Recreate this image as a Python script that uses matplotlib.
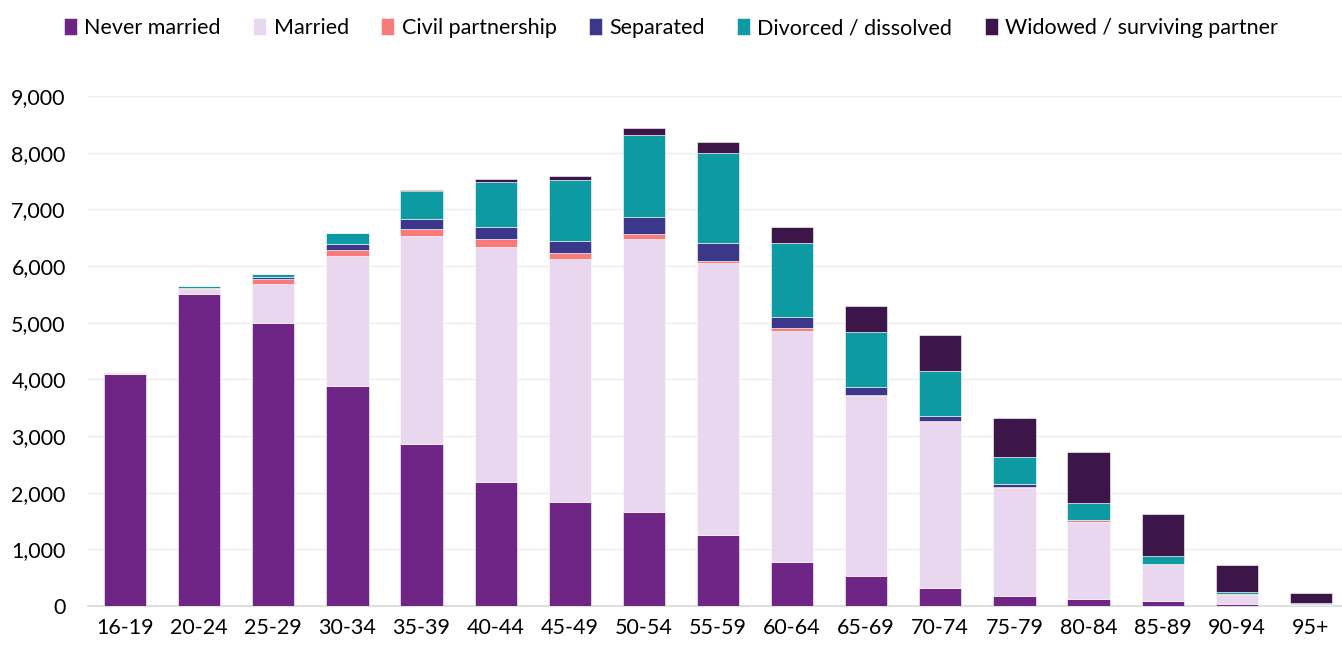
import numpy as np
import matplotlib.pyplot as plt

plt.rcParams['font.family'] = ['Lato', 'DejaVu Sans']

ages = ['16-19', '20-24', '25-29', '30-34', '35-39', '40-44', '45-49', '50-54',
        '55-59', '60-64', '65-69', '70-74', '75-79', '80-84', '85-89', '90-94', '95+']

never_married = [4100, 5500, 5000, 3880, 2860, 2196, 1843, 1661, 1259, 779, 523, 322, 175, 118, 82, 30, 10]
married = [20, 90, 690, 2305, 3667, 4148, 4288, 4823, 4787, 4081, 3181, 2932, 1910, 1367, 660, 170, 31]
civil = [3, 20, 85, 97, 134, 128, 104, 85, 49, 43, 25, 19, 12, 24, 5, 3, 1]
separated = [3, 10, 25, 104, 164, 225, 207, 292, 316, 194, 140, 79, 61, 17, 3, 2, 1]
divorced = [5, 25, 60, 195, 499, 779, 1076, 1442, 1575, 1308, 967, 796, 463, 283, 125, 45, 5]
widowed = [2, 5, 5, 10, 18, 54, 73, 140, 195, 292, 450, 633, 705, 913, 754, 466, 190]

series = [
    ('Never married', never_married, '#6E2585'),
    ('Married', married, '#E9D7EF'),
    ('Civil partnership', civil, '#F87B7A'),
    ('Separated', separated, '#3B388B'),
    ('Divorced / dissolved', divorced, '#0E9AA3'),
    ('Widowed / surviving partner', widowed, '#3D1649'),
]

fig = plt.figure(figsize=(13.42, 6.46), dpi=100)
ax = fig.add_axes([88 / 1342, 40 / 646, 1 - 88 / 1342, 510 / 646])

x = np.arange(len(ages))
bottom = np.zeros(len(ages))
for name, vals, col in series:
    vals = np.array(vals, dtype=float)
    ax.bar(x, vals, 0.57, bottom=bottom, color=col, label=name,
           edgecolor='white', linewidth=0.4, zorder=3)
    bottom += vals

ax.set_xlim(-0.5, 16.42)
ax.set_ylim(0, 9000)
ax.set_yticks(np.arange(0, 9001, 1000))
ax.set_yticklabels([f'{v:,}' for v in range(0, 9001, 1000)])
ax.set_xticks(x)
ax.set_xticklabels(ages)
ax.tick_params(axis='both', length=0, labelsize=15.5, colors='black')
ax.tick_params(axis='x', pad=9)
ax.tick_params(axis='y', pad=16)
ax.grid(axis='y', color='#EDEDED', linewidth=1, zorder=0)
for s in ['top', 'right', 'left']:
    ax.spines[s].set_visible(False)
ax.spines['bottom'].set_color('#D9D9D9')
ax.spines['bottom'].set_linewidth(1.2)

fig.legend(loc='center left', bbox_to_anchor=(64 / 1342, 1 - 28 / 646), ncol=6,
           frameon=False, fontsize=15.5, handlelength=0.6, handleheight=0.85,
           handletextpad=0.35, columnspacing=1.5, borderaxespad=0, borderpad=0)

fig.savefig('out.png', dpi=100)
